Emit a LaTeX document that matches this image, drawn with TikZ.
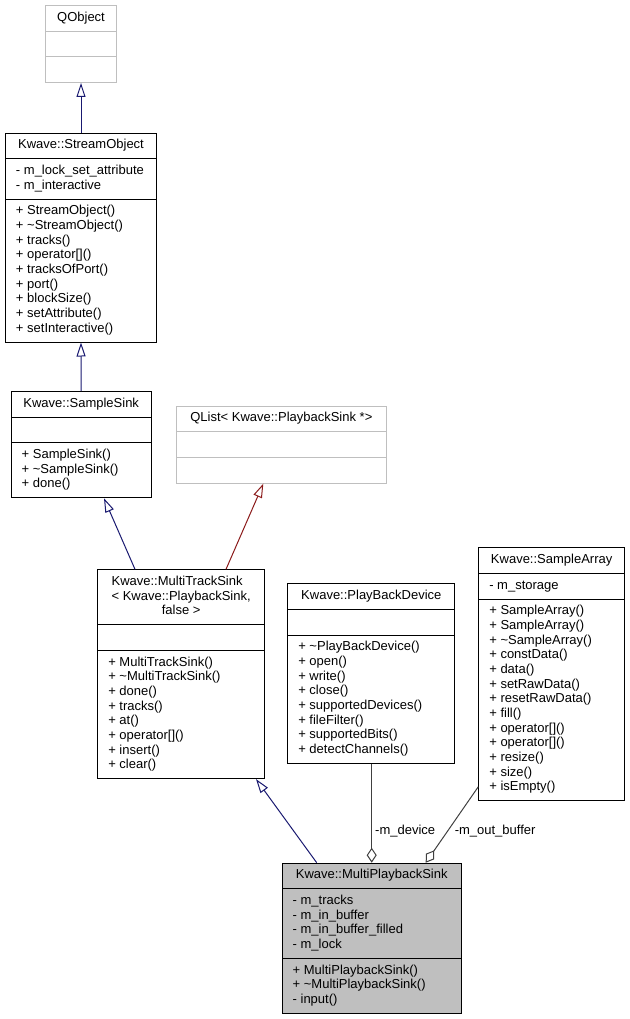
\documentclass[tikz,border=0pt]{standalone}
\usepackage{fontspec}
\setmainfont{Liberation Sans}
\usetikzlibrary{shapes.multipart,arrows.meta,calc}

\begin{document}
\begin{tikzpicture}[x=1pt,y=-1pt,
    every node/.style={font=\fontsize{13}{14.65}\selectfont},
    umlclass/.style={rectangle split, rectangle split parts=3, draw=black,
      line width=1pt, anchor=north west, align=left,
      inner xsep=10.5pt, inner ysep=5pt,
      rectangle split part align={center,left,left}},
    extclass/.style={umlclass, draw=black!25},
    inherit/.style={draw={rgb,255:red,25;green,25;blue,112}, line width=1pt,
      -{Triangle[open,length=14pt,width=9pt]}},
    privinherit/.style={inherit, draw={rgb,255:red,139;green,26;blue,26}},
    aggr/.style={draw=black!75, line width=1pt,
      {Diamond[open,length=15pt,width=10pt]}-}]
    \useasboundingbox (0,0) rectangle (629,1019);

    % classes
    \node[extclass, minimum width=71pt] (qobject) at (45,5)
      {\strut QObject \nodepart{second}\strut \nodepart{third}\strut};
    \node[umlclass, minimum width=151pt] (streamobject) at (5,132.7)
      {\strut Kwave::StreamObject
       \nodepart{second}\strut - m\_lock\_set\_attribute\\\strut - m\_interactive
       \nodepart{third}\strut + StreamObject()\\\strut + \textasciitilde StreamObject()\\
       \strut + tracks()\\\strut + operator[]()\\\strut + tracksOfPort()\\
       \strut + port()\\\strut + blockSize()\\\strut + setAttribute()\\
       \strut + setInteractive()};
    \node[umlclass, minimum width=140pt] (samplesink) at (10.7,391)
      {\strut Kwave::SampleSink \nodepart{second}\strut
       \nodepart{third}\strut + SampleSink()\\\strut + \textasciitilde SampleSink()\\
       \strut + done()};
    \node[extclass, minimum width=210.3pt] (qlist) at (175.7,405.7)
      {\strut QList< Kwave::PlaybackSink *> \nodepart{second}\strut
       \nodepart{third}\strut};
    \node[umlclass, minimum width=166.7pt] (mtsink) at (97.3,569.3)
      {\strut Kwave::MultiTrackSink\\\strut < Kwave::PlaybackSink,\\
       \hfil\strut false >\hfil
       \nodepart{second}\strut
       \nodepart{third}\strut + MultiTrackSink()\\\strut + \textasciitilde MultiTrackSink()\\
       \strut + done()\\\strut + tracks()\\\strut + at()\\\strut + operator[]()\\
       \strut + insert()\\\strut + clear()};
    \node[umlclass, minimum width=167pt] (pbdevice) at (287.3,583.3)
      {\strut Kwave::PlayBackDevice \nodepart{second}\strut
       \nodepart{third}\strut + \textasciitilde PlayBackDevice()\\\strut + open()\\
       \strut + write()\\\strut + close()\\\strut + supportedDevices()\\
       \strut + fileFilter()\\\strut + supportedBits()\\\strut + detectChannels()};
    \node[umlclass, minimum width=145.7pt] (sarray) at (478.3,547.3)
      {\strut Kwave::SampleArray \nodepart{second}\strut - m\_storage
       \nodepart{third}\strut + SampleArray()\\\strut + SampleArray()\\
       \strut + \textasciitilde SampleArray()\\\strut + constData()\\\strut + data()\\
       \strut + setRawData()\\\strut + resetRawData()\\\strut + fill()\\
       \strut + operator[]()\\\strut + operator[]()\\\strut + resize()\\
       \strut + size()\\\strut + isEmpty()};
    \node[umlclass, fill=black!25, minimum width=179pt] (mpsink) at (281.7,862.7)
      {\strut Kwave::MultiPlaybackSink
       \nodepart{second}\strut - m\_tracks\\\strut - m\_in\_buffer\\
       \strut - m\_in\_buffer\_filled\\\strut - m\_lock
       \nodepart{third}\strut + MultiPlaybackSink()\\\strut + \textasciitilde MultiPlaybackSink()\\
       \strut - input()};

    % inheritance
    \draw[inherit] (streamobject.north) -- (qobject.south);
    \draw[inherit] (samplesink.north) -- (streamobject.south);
    \draw[inherit] ([xshift=37.7pt]mtsink.north west) -- ([xshift=93.3pt]samplesink.south west);
    \draw[privinherit] ([xshift=128.7pt]mtsink.north west) -- ([xshift=87.6pt]qlist.south west);
    \draw[inherit] ([xshift=35pt]mpsink.north west) -- ([xshift=158.7pt]mtsink.south west);

    % members
    \draw[aggr] (mpsink.north) -- (mpsink.north |- pbdevice.south)
      node[pos=0.32, anchor=west, inner sep=3pt] (devlabel) {-m\_device};
    \draw[aggr] ([xshift=144pt]mpsink.north west) -- ([yshift=14.3pt]sarray.south west)
      node[pos=0.41, anchor=west, inner sep=3pt, xshift=4pt] (buflabel) {-m\_out\_buffer};
\end{tikzpicture}
\end{document}
